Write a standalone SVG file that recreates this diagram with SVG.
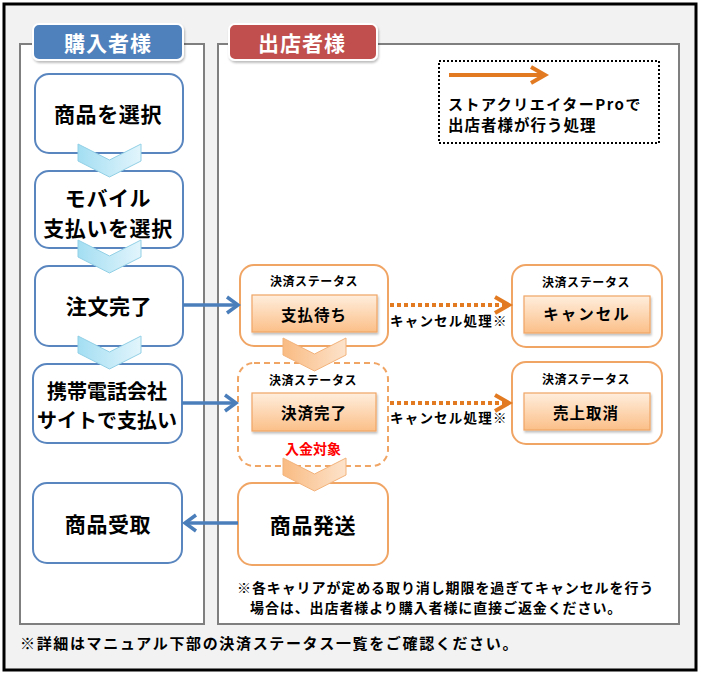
<svg xmlns="http://www.w3.org/2000/svg" width="701" height="674" viewBox="0 0 701 674">
<style>
text{font-family:"Noto Sans CJK JP","Noto Sans CJK SC",sans-serif;font-weight:bold;fill:#000;dominant-baseline:central}
.c{text-anchor:middle}
.lane{fill:#fff;stroke:#7f7f7f;stroke-width:2}
.bbox{fill:#fff;stroke:#5a86bf;stroke-width:2}
.obox{fill:#fff;stroke:#f0a565;stroke-width:2}
.inner{fill:url(#og);stroke:#f0a565;stroke-width:1.2}
.big{font-size:21px;letter-spacing:0.6px}
.mid{font-size:15.5px;letter-spacing:1px}
.lab{font-size:12px;letter-spacing:0.6px}
.hdr{font-size:21px;fill:#fff;letter-spacing:1px}
.bchev{fill:url(#bg);stroke:#92d0e6;stroke-width:1}
.ochev{fill:url(#ochg);stroke:#f3b37c;stroke-width:1}
.barrow{fill:none;stroke:#4a7ebb;stroke-width:3.5}
.oarrow{fill:none;stroke:#e27a22;stroke-width:4}
</style>
<defs>
<linearGradient id="og" x1="0" y1="0" x2="0" y2="1">
<stop offset="0" stop-color="#ffeedd"/>
<stop offset="1" stop-color="#fbbf88"/>
</linearGradient>
<linearGradient id="bg" x1="0" y1="0" x2="1" y2="0">
<stop offset="0" stop-color="#a3def2"/>
<stop offset="1" stop-color="#e2f5fc"/>
</linearGradient>
<linearGradient id="ochg" x1="0" y1="0" x2="1" y2="0">
<stop offset="0" stop-color="#f9bb82"/>
<stop offset="1" stop-color="#fde3cb"/>
</linearGradient>
<filter id="sh" x="-10%" y="-10%" width="130%" height="140%">
<feDropShadow dx="1" dy="2" stdDeviation="1.2" flood-color="#000" flood-opacity="0.25"/>
</filter>
</defs>

<rect x="0" y="0" width="701" height="674" fill="#fff"/>
<rect id="frame" x="4" y="4" width="692" height="666" fill="#f2f2f2" stroke="#000" stroke-width="3"/>

<g id="lane-buyer">
<rect class="lane" x="20" y="44" width="184" height="580"/>
<rect x="33" y="24" width="150" height="36" rx="6" fill="#4f81bd" stroke="#fff" stroke-width="2" filter="url(#sh)"/>
<text class="hdr c" x="108" y="42">購入者様</text>
</g>
<g id="lane-seller">
<rect class="lane" x="218" y="44" width="461" height="580"/>
<rect x="229" y="24" width="148" height="36" rx="6" fill="#c0504d" stroke="#fff" stroke-width="2" filter="url(#sh)"/>
<text class="hdr c" x="302" y="42">出店者様</text>
</g>

<g id="legend">
<rect x="439" y="61" width="220" height="82" fill="#fff" stroke="#000" stroke-width="2" stroke-dasharray="2 2"/>
<line x1="449" y1="75" x2="542" y2="75" class="oarrow"/>
<polyline points="531,67 545,75 531,83" class="oarrow"/>
<text class="mid" x="448" y="103" style="font-size:15px;letter-spacing:1.5px">ストアクリエイターProで</text>
<text class="mid" x="448" y="124">出店者様が行う処理</text>
</g>

<g id="n-select">
<rect class="bbox" x="35" y="74" width="148" height="79" rx="14"/>
<text class="big c" x="108" y="113">商品を選択</text>
</g>
<g id="n-mobile">
<rect class="bbox" x="35" y="171" width="148" height="77" rx="14"/>
<text class="big c" x="108" y="197">モバイル</text>
<text class="big c" x="108" y="227">支払いを選択</text>
</g>
<g id="n-order">
<rect class="bbox" x="35" y="266" width="148" height="80" rx="14"/>
<text class="big c" x="109" y="305">注文完了</text>
</g>
<g id="n-pay">
<rect class="bbox" x="33" y="364" width="149" height="79" rx="14"/>
<text class="big c" x="107" y="390" style="letter-spacing:0;font-size:20px">携帯電話会社</text>
<text class="big c" x="107" y="419" style="letter-spacing:0;font-size:20px">サイトで支払い</text>
</g>
<g id="n-receive">
<rect class="bbox" x="33" y="483" width="149" height="80" rx="14"/>
<text class="big c" x="108" y="523">商品受取</text>
</g>

<g id="s-wait">
<rect class="obox" x="240" y="265" width="148" height="81" rx="14"/>
<text class="lab c" x="314" y="280">決済ステータス</text>
<rect class="inner" x="252" y="295" width="125" height="37" filter="url(#sh)"/>
<text class="mid c" x="314" y="314">支払待ち</text>
</g>
<g id="s-done">
<rect x="238" y="363" width="150" height="103" rx="16" fill="#fff" stroke="#f0a565" stroke-width="2" stroke-dasharray="6 4"/>
<text class="lab c" x="313" y="379">決済ステータス</text>
<rect class="inner" x="252" y="393" width="124" height="38" filter="url(#sh)"/>
<text class="mid c" x="314" y="412">決済完了</text>
<text class="c" x="313" y="448" style="font-size:14px;fill:#ff0000">入金対象</text>
</g>
<g id="n-ship">
<rect class="obox" x="238" y="483" width="150" height="82" rx="14"/>
<text class="big c" x="313" y="524">商品発送</text>
</g>
<g id="s-cancel">
<rect class="obox" x="512" y="265" width="150" height="82" rx="14"/>
<text class="lab c" x="586" y="281">決済ステータス</text>
<rect class="inner" x="524" y="296" width="126" height="37" filter="url(#sh)"/>
<text class="mid c" x="587" y="313" style="letter-spacing:2px">キャンセル</text>
</g>
<g id="s-void">
<rect class="obox" x="512" y="362" width="150" height="82" rx="14"/>
<text class="lab c" x="586" y="378">決済ステータス</text>
<rect class="inner" x="524" y="393" width="126" height="37" filter="url(#sh)"/>
<text class="mid c" x="586" y="412">売上取消</text>
</g>

<g id="connectors">
<polygon class="bchev" points="78,144 109.5,160 141,144 141,161 109.5,177 78,161"/>
<polygon class="bchev" points="78,240 109.5,256 141,240 141,257 109.5,273 78,257"/>
<polygon class="bchev" points="78,336 109.5,352 141,336 141,353 109.5,369 78,353"/>
<polygon class="ochev" points="283,338 314.5,354 346,338 346,355 314.5,371 283,355"/>
<polygon class="ochev" points="283,458 314.5,474 346,458 346,475 314.5,491 283,475"/>

<line class="barrow" x1="183" y1="305" x2="238" y2="305"/>
<polyline class="barrow" points="227,297 238,305 227,313"/>
<line class="barrow" x1="182" y1="403" x2="236" y2="403"/>
<polyline class="barrow" points="225,395 236,403 225,411"/>
<line class="barrow" x1="238" y1="523" x2="185" y2="523"/>
<polyline class="barrow" points="196,515 185,523 196,531"/>

<line class="oarrow" x1="390" y1="305" x2="506" y2="305" stroke-dasharray="4 3"/>
<polyline class="oarrow" points="495,297 509,305 495,313"/>
<line class="oarrow" x1="390" y1="403" x2="506" y2="403" stroke-dasharray="4 3"/>
<polyline class="oarrow" points="495,395 509,403 495,411"/>
<text x="390" y="320" style="font-size:13.5px;letter-spacing:1.2px">キャンセル処理※</text>
<text x="390" y="417" style="font-size:13.5px;letter-spacing:1.2px">キャンセル処理※</text>
</g>

<g id="notes">
<text x="237" y="587" style="font-size:14px;letter-spacing:0.9px">※各キャリアが定める取り消し期限を過ぎてキャンセルを行う</text>
<text x="250" y="607" style="font-size:14px;letter-spacing:0.9px">場合は、出店者様より購入者様に直接ご返金ください。</text>
<text x="20" y="642" style="font-size:15px;letter-spacing:1.65px">※詳細はマニュアル下部の決済ステータス一覧をご確認ください。</text>
</g>
</svg>
